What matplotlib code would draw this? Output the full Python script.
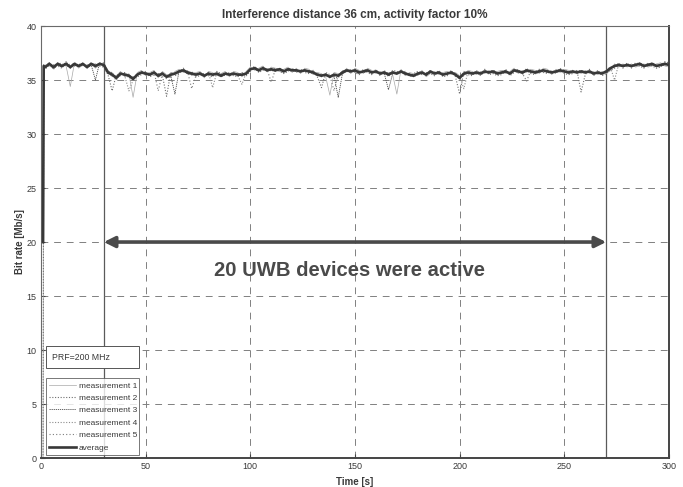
import numpy as np
import matplotlib
matplotlib.use("Agg")
import matplotlib.pyplot as plt
from matplotlib.patches import Rectangle

# Sample times [s]: link start, ramp sample, then every 2 s
time_s = np.concatenate([[1.0, 1.3], np.arange(2, 301, 2)])

average = [
    20.0, 36.3,
    36.2, 36.5, 36.2, 36.5, 36.3, 36.5, 36.2, 36.5, 36.3, 36.5,
    36.2, 36.5, 36.3, 36.5, 36.4, 35.7, 35.5, 35.2, 35.6, 35.5,
    35.4, 35.1, 35.5, 35.7, 35.6, 35.5, 35.7, 35.4, 35.6, 35.3,
    35.5, 35.6, 35.8, 35.9, 35.7, 35.6, 35.5, 35.6, 35.4, 35.6,
    35.5, 35.6, 35.4, 35.6, 35.5, 35.6, 35.5, 35.5, 35.6, 36.0,
    36.1, 35.9, 36.1, 35.9, 36.0, 35.9, 36.0, 35.8, 36.0, 35.9,
    35.9, 35.8, 35.9, 35.8, 35.7, 35.5, 35.4, 35.5, 35.3, 35.5,
    35.4, 35.7, 35.9, 35.8, 35.9, 35.7, 35.8, 35.9, 35.7, 35.8,
    35.6, 35.7, 35.5, 35.7, 35.6, 35.8, 35.6, 35.5, 35.4, 35.6,
    35.7, 35.5, 35.8, 35.6, 35.7, 35.5, 35.6, 35.7, 35.5, 35.2,
    35.6, 35.7, 35.6, 35.7, 35.6, 35.8, 35.7, 35.8, 35.6, 35.7,
    35.8, 35.6, 35.9, 35.8, 35.7, 35.9, 35.8, 35.7, 35.8, 35.9,
    35.8, 35.7, 35.8, 35.9, 35.8, 35.7, 35.8, 35.7, 35.8, 35.7,
    35.8, 35.6, 35.7, 35.6, 35.8, 36.1, 36.3, 36.4, 36.3, 36.4,
    36.3, 36.4, 36.5, 36.3, 36.4, 36.5, 36.3, 36.4, 36.5, 36.4,
]

measurement_1 = [
    0.0, 36.2,
    36.4, 36.3, 36.1, 36.6, 36.4, 36.3, 34.4, 36.6, 36.1, 36.4,
    36.3, 36.6, 36.1, 36.4, 36.5, 35.9, 35.3, 35.4, 35.8, 35.3,
    35.6, 33.4, 35.7, 35.9, 35.4, 35.7, 35.9, 35.2, 35.8, 35.5,
    35.3, 35.8, 36.0, 35.7, 35.9, 35.4, 35.7, 35.8, 35.2, 35.8,
    35.7, 35.4, 35.6, 35.8, 35.3, 35.8, 35.7, 35.3, 35.8, 36.2,
    35.9, 36.1, 36.3, 35.8, 36.2, 36.1, 35.8, 36.0, 36.2, 35.7,
    36.1, 35.6, 36.1, 36.0, 35.5, 35.7, 35.6, 35.3, 33.6, 35.7,
    35.6, 35.5, 36.1, 35.6, 36.1, 35.9, 35.6, 36.1, 35.9, 35.6,
    35.8, 35.5, 35.7, 35.5, 33.7, 36.0, 35.4, 35.7, 35.6, 35.4,
    35.9, 35.3, 35.6, 35.8, 35.5, 35.7, 35.8, 35.5, 35.7, 35.4,
    35.4, 35.9, 35.8, 35.5, 35.8, 35.6, 35.9, 35.6, 35.8, 35.9,
    35.6, 35.8, 36.1, 35.6, 35.9, 35.7, 36.0, 35.9, 35.6, 36.1,
    36.0, 35.5, 36.0, 35.7, 36.0, 35.9, 35.6, 35.9, 35.6, 35.9,
    35.6, 35.8, 35.5, 35.8, 35.6, 35.9, 36.5, 36.2, 36.5, 36.2,
    36.5, 36.2, 36.3, 36.5, 36.2, 36.3, 36.5, 36.6, 36.3, 36.2,
]

measurement_2 = [
    0.0, 36.4,
    36.1, 36.4, 36.4, 36.3, 36.1, 36.6, 36.4, 36.3, 36.5, 36.3,
    36.4, 36.3, 36.5, 36.3, 36.2, 35.5, 34.0, 35.5, 35.4, 35.7,
    35.2, 35.3, 35.3, 35.5, 35.8, 35.3, 35.5, 35.6, 35.4, 33.5,
    35.7, 35.4, 35.6, 36.1, 35.5, 35.8, 35.3, 35.4, 35.6, 35.4,
    35.3, 35.8, 35.6, 35.4, 35.7, 35.4, 35.3, 35.7, 35.4, 35.8,
    36.3, 35.7, 35.9, 36.1, 35.8, 36.1, 35.8, 35.6, 35.8, 36.1,
    35.7, 36.0, 35.7, 35.6, 35.9, 35.3, 34.3, 35.7, 35.5, 35.3,
    35.2, 35.9, 35.7, 36.0, 35.7, 35.5, 36.0, 35.7, 35.5, 36.0,
    35.4, 35.9, 35.3, 35.9, 35.8, 35.6, 35.8, 35.3, 35.6, 35.8,
    35.5, 35.7, 35.6, 35.4, 35.9, 35.3, 35.4, 35.9, 35.3, 33.7,
    35.8, 35.5, 35.4, 35.9, 35.4, 36.0, 35.5, 35.6, 35.4, 35.5,
    36.0, 35.4, 35.7, 36.0, 35.5, 36.1, 35.6, 35.5, 36.0, 35.7,
    35.6, 35.9, 35.6, 36.1, 35.6, 35.5, 35.6, 35.9, 33.9, 35.5,
    36.0, 35.4, 35.9, 35.4, 35.6, 35.9, 36.1, 36.6, 36.1, 36.6,
    36.1, 36.6, 36.3, 36.1, 36.6, 36.3, 36.1, 36.2, 36.7, 36.6,
]

measurement_3 = [
    20.0, 36.1,
    36.3, 36.6, 36.0, 36.4, 36.2, 36.7, 36.1, 36.4, 36.2, 36.6,
    36.1, 36.4, 35.0, 36.6, 36.3, 35.8, 35.7, 35.1, 35.5, 35.6,
    35.5, 35.2, 35.4, 35.8, 35.5, 35.6, 35.6, 35.5, 35.7, 35.2,
    35.4, 33.7, 35.9, 35.8, 35.6, 35.5, 35.6, 35.7, 35.5, 35.5,
    35.6, 35.5, 35.3, 35.5, 35.6, 35.5, 35.6, 35.4, 35.5, 36.1,
    36.0, 35.8, 36.2, 36.0, 35.9, 35.8, 36.1, 35.9, 35.9, 36.0,
    35.8, 35.9, 35.8, 35.9, 35.8, 35.4, 35.5, 35.4, 35.4, 35.4,
    33.4, 35.6, 35.8, 35.9, 35.8, 35.8, 35.7, 35.8, 35.8, 35.7,
    35.7, 35.6, 34.1, 35.6, 35.7, 35.7, 35.7, 35.4, 35.5, 35.5,
    35.6, 35.6, 35.7, 35.7, 35.6, 35.6, 35.5, 35.8, 35.4, 35.3,
    35.5, 35.6, 35.7, 35.6, 35.7, 35.7, 35.8, 35.7, 35.7, 35.6,
    35.7, 35.7, 35.8, 35.9, 35.6, 35.8, 35.7, 35.8, 35.9, 35.8,
    35.7, 35.8, 35.7, 35.8, 35.9, 35.6, 35.7, 35.8, 35.7, 35.8,
    35.7, 35.7, 35.6, 35.7, 35.7, 36.0, 36.4, 36.3, 36.4, 36.3,
    36.4, 36.3, 36.6, 36.4, 36.3, 36.4, 36.4, 36.3, 36.4, 36.5,
]

measurement_4 = [
    20.0, 36.3,
    36.0, 36.4, 36.3, 36.6, 36.5, 36.4, 36.3, 36.6, 36.4, 36.4,
    36.3, 36.6, 36.4, 36.4, 36.5, 35.6, 35.4, 35.3, 35.7, 35.4,
    34.0, 35.0, 35.6, 35.6, 35.7, 35.4, 35.8, 35.3, 35.5, 35.4,
    35.6, 35.7, 35.7, 35.8, 35.8, 35.7, 35.6, 35.5, 35.3, 35.7,
    34.3, 35.7, 35.5, 35.7, 35.6, 35.7, 35.4, 34.6, 35.7, 35.9,
    36.2, 36.0, 36.0, 35.8, 36.1, 35.8, 35.9, 35.7, 35.9, 35.8,
    36.0, 35.7, 36.0, 35.7, 35.8, 35.6, 35.3, 35.6, 35.2, 35.6,
    35.5, 35.8, 36.0, 35.9, 35.8, 35.6, 35.9, 36.0, 35.6, 35.9,
    35.5, 35.8, 35.6, 35.8, 35.5, 35.9, 35.5, 35.6, 35.3, 35.7,
    35.8, 35.4, 35.9, 35.5, 35.8, 35.6, 35.7, 35.6, 35.6, 35.3,
    34.2, 35.8, 35.5, 35.8, 35.7, 35.9, 35.6, 35.9, 35.5, 35.8,
    35.9, 35.5, 35.8, 35.7, 35.8, 35.8, 35.9, 35.6, 35.7, 35.8,
    35.9, 35.6, 35.9, 35.8, 35.7, 35.8, 35.9, 35.6, 35.9, 35.6,
    35.9, 35.5, 35.8, 35.5, 35.9, 36.2, 35.0, 36.5, 36.2, 36.5,
    36.2, 36.5, 36.6, 36.2, 36.5, 36.6, 36.2, 36.5, 36.6, 36.3,
]

measurement_5 = [
    20.0, 36.5,
    36.2, 36.6, 36.1, 36.4, 36.3, 36.4, 36.1, 36.5, 36.2, 36.6,
    36.1, 36.6, 36.2, 36.6, 36.6, 35.8, 35.6, 35.0, 35.7, 35.4,
    35.4, 35.2, 35.6, 35.8, 35.7, 35.6, 35.8, 34.0, 35.6, 35.1,
    35.6, 35.5, 35.9, 36.0, 35.8, 34.2, 35.4, 35.7, 35.5, 35.5,
    35.4, 35.5, 35.3, 35.6, 35.4, 35.5, 35.6, 35.6, 35.5, 36.0,
    36.0, 36.0, 36.2, 36.0, 34.8, 36.0, 36.1, 35.9, 36.1, 36.0,
    35.8, 35.9, 35.8, 35.7, 35.6, 35.6, 35.5, 35.4, 35.4, 34.0,
    35.5, 35.6, 35.8, 35.7, 36.0, 35.8, 35.7, 35.8, 35.8, 35.7,
    35.7, 35.8, 35.6, 35.8, 35.7, 35.7, 35.7, 35.4, 35.3, 35.5,
    35.6, 35.6, 35.7, 35.7, 35.8, 35.4, 35.7, 35.8, 35.6, 35.0,
    35.7, 35.8, 35.7, 35.6, 35.5, 35.7, 35.8, 35.9, 35.7, 35.6,
    35.7, 35.7, 36.0, 35.9, 35.6, 34.9, 35.9, 35.8, 35.9, 36.0,
    35.7, 35.8, 35.7, 36.0, 35.9, 35.8, 35.7, 35.8, 35.9, 35.8,
    35.7, 35.7, 35.6, 35.7, 35.7, 36.0, 36.2, 36.3, 36.4, 36.3,
    36.4, 36.3, 36.4, 36.4, 36.5, 36.4, 36.4, 36.3, 36.4, 36.5,
]

measurements = [measurement_1, measurement_2, measurement_3, measurement_4, measurement_5]
measurement_labels = ["measurement 1", "measurement 2", "measurement 3",
                      "measurement 4", "measurement 5"]
average_label = "average"

active_start, active_end = 30, 270
active_level = 20
active_text = "20 UWB devices were active"
prf_text = "PRF=200 MHz"

title_text = "Interference distance 36 cm, activity factor 10%"
x_label = "Time [s]"
y_label = "Bit rate [Mb/s]"
x_ticks = [0, 50, 100, 150, 200, 250, 300]
y_ticks = [0, 5, 10, 15, 20, 25, 30, 35, 40]

plain = ["Liberation Sans", "DejaVu Sans"]
text_color = "#3a3a3a"

fig = plt.figure(figsize=(6.83, 4.87), dpi=100)
ax = fig.add_axes([0.060, 0.0595, 0.9195, 0.887])

meas_styles = [
    dict(color="#a8a8a8", linestyle="-", linewidth=0.5),
    dict(color="#6e6e6e", linestyle=(0, (1, 1.5)), linewidth=0.8),
    dict(color="#4e4e4e", linestyle=(0, (1.5, 1)), linewidth=0.6),
    dict(color="#8c8c8c", linestyle=(0, (1, 1.5)), linewidth=0.8),
    dict(color="#7c7c7c", linestyle=(0, (1, 2)), linewidth=0.8),
]

handles = []
for values, label, style in zip(measurements, measurement_labels, meas_styles):
    h, = ax.plot(time_s, values, label=label, zorder=2, **style)
    handles.append(h)
h_avg, = ax.plot(time_s, average, color="#383838", linewidth=1.9,
                 label=average_label, zorder=3)
handles.append(h_avg)

# Start/end of the interference period
for t in (active_start, active_end):
    ax.axvline(t, color="#5a5a5a", linewidth=0.9, zorder=1.5)

ax.annotate("", xy=(active_start, active_level), xytext=(active_end, active_level),
            arrowprops=dict(arrowstyle="<|-|>", color="#4a4a4a", lw=2.6,
                            mutation_scale=16, shrinkA=0, shrinkB=0),
            zorder=4)
ax.text(147.5, 17.4, active_text, ha="center", va="center", fontsize=14.6,
        fontweight="bold", color="#4a4a4a", family=plain, zorder=4)

ax.set_xlim(0, 300)
ax.set_ylim(0, 40)
ax.set_xticks(x_ticks)
ax.set_yticks(y_ticks)
ax.grid(True, color="#808080", linestyle=(0, (7, 6)), linewidth=0.7)
ax.tick_params(direction="in", length=3, labelsize=6.5, colors="#444444",
               labelcolor=text_color, pad=3)
for lab in ax.get_xticklabels() + ax.get_yticklabels():
    lab.set_family(plain)
for side in ("top", "left"):
    ax.spines[side].set_color("#6a6a6a")
    ax.spines[side].set_linewidth(0.8)
for side in ("bottom", "right"):
    ax.spines[side].set_color("#444444")
    ax.spines[side].set_linewidth(1.4)

ax.set_title(title_text, fontsize=8.5, fontweight="bold", color=text_color,
             family=plain, pad=6)
ax.set_xlabel(x_label, fontsize=7, fontweight="bold", color=text_color,
              family=plain, labelpad=4)
ax.set_ylabel(y_label, fontsize=7, fontweight="bold", color=text_color,
              family=plain, labelpad=1)

# PRF annotation box above the legend
ax.add_patch(Rectangle((0.008, 0.208), 0.148, 0.051, transform=ax.transAxes,
                       facecolor="white", edgecolor="#555555", linewidth=0.7,
                       zorder=5))
ax.text(0.018, 0.2335, prf_text, transform=ax.transAxes, fontsize=6.3,
        color=text_color, family=plain, va="center", ha="left", zorder=6)

leg = ax.legend(handles=handles, loc="lower left",
                bbox_to_anchor=(0.008, 0.007, 0.148, 0.194),
                mode="expand", frameon=True, fancybox=False,
                borderpad=0.4, labelspacing=0.55, handlelength=3.2,
                handletextpad=0.3, borderaxespad=0,
                prop={"family": plain, "size": 6})
leg.get_frame().set_edgecolor("#555555")
leg.get_frame().set_linewidth(0.7)
for txt in leg.get_texts():
    txt.set_color(text_color)
leg.set_zorder(6)

fig.savefig("out.png", dpi=100)
